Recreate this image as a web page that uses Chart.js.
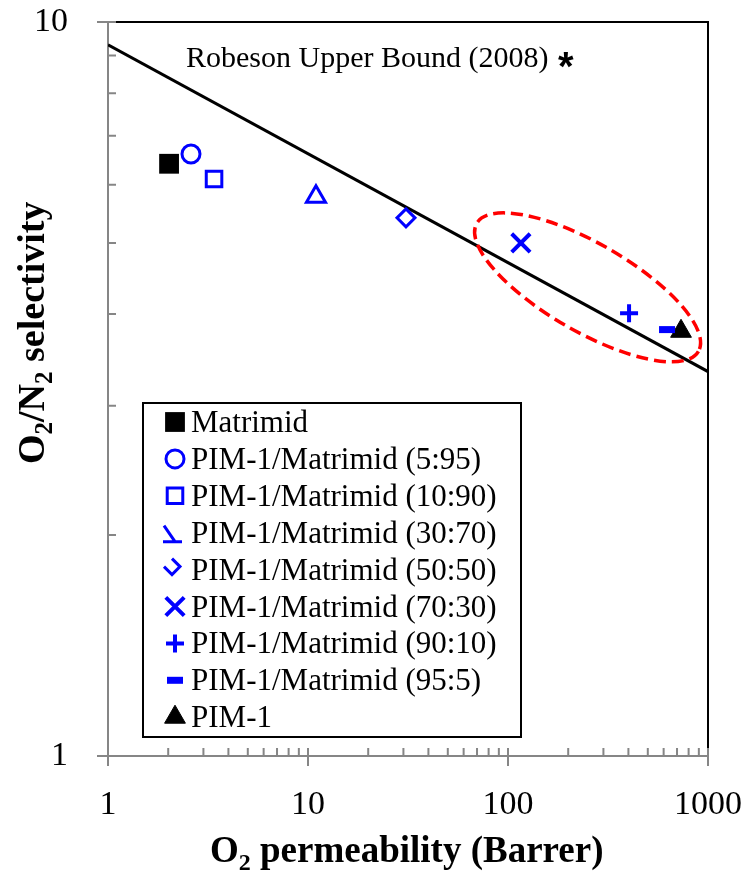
<!DOCTYPE html>
<html>
<head>
<meta charset="utf-8">
<script src="https://cdn.jsdelivr.net/npm/chart.js@4.4.0/dist/chart.umd.min.js"></script>
<style>
  html, body { margin: 0; padding: 0; background: #fff; }
  #wrap { width: 748px; height: 871px; position: relative; }
</style>
</head>
<body>
<div id="wrap"><canvas id="c"></canvas></div>
<script>
// --- data ---
const seriesNames = [
  'Matrimid',
  'PIM-1/Matrimid (5:95)',
  'PIM-1/Matrimid (10:90)',
  'PIM-1/Matrimid (30:70)',
  'PIM-1/Matrimid (50:50)',
  'PIM-1/Matrimid (70:30)',
  'PIM-1/Matrimid (90:10)',
  'PIM-1/Matrimid (95:5)',
  'PIM-1',
];
const permeability = [2.02, 2.60, 3.39, 10.96, 30.9, 116, 403, 624, 733];
const selectivity  = [6.41, 6.61, 6.11, 5.78, 5.41, 5.00, 4.01, 3.81, 3.79];

const boundX = [1, 1000];
const boundY = [9.31, 3.34];
const boundLabel = 'Robeson Upper Bound (2008)';

const xTickValues = [1, 10, 100, 1000];
const yTickValues = [1, 10];

// centre of the highlighted region (data coords)
const ellipseCenter = { x: 250, y: 4.35 };

// --- styling ---
const BLUE = '#0000ff';
const GREY = '#868686';
const SERIF = '"Liberation Serif", "Times New Roman", serif';
const NONE = 'rgba(0,0,0,0)';

const markers = [
  { style: 'rect',     r: 14, fill: '#000', stroke: '#000', bw: 0 },
  { style: 'circle',   r: 9,  fill: NONE,   stroke: BLUE,   bw: 3 },
  { style: 'rect',     r: 11, fill: NONE,   stroke: BLUE,   bw: 3 },
  { style: 'triangle', r: 11, fill: NONE,   stroke: BLUE,   bw: 3 },
  { style: 'rectRot',  r: 9,  fill: NONE,   stroke: BLUE,   bw: 3 },
  { style: 'crossRot', r: 13, fill: NONE,   stroke: BLUE,   bw: 4 },
  { style: 'cross',    r: 9,  fill: NONE,   stroke: BLUE,   bw: 4 },
  { style: 'line',     r: 8,  fill: NONE,   stroke: BLUE,   bw: 7 },
  { style: 'triangle', r: 12, fill: '#000', stroke: '#000', bw: 1 },
];

const datasets = seriesNames.map((name, i) => ({
  type: 'scatter',
  label: name,
  data: [{ x: permeability[i], y: selectivity[i] }],
  pointStyle: markers[i].style,
  pointRadius: markers[i].r,
  pointBackgroundColor: markers[i].fill,
  pointBorderColor: markers[i].stroke,
  pointBorderWidth: markers[i].bw,
  order: 1,
}));

datasets.push({
  type: 'line',
  label: boundLabel,
  data: boundX.map((x, i) => ({ x, y: boundY[i] })),
  borderColor: '#000',
  borderWidth: 3,
  pointRadius: 0,
  showLine: true,
  order: 5,
});

// axes frame, ticks and the upper-bound caption
const frame = {
  id: 'frame',
  beforeDatasetsDraw(chart) {
    const { ctx, chartArea: a, scales: { x, y } } = chart;
    ctx.save();
    ctx.lineCap = 'butt';

    ctx.strokeStyle = '#000';
    ctx.lineWidth = 2;
    ctx.beginPath();
    ctx.moveTo(a.left, a.top);
    ctx.lineTo(a.right, a.top);
    ctx.lineTo(a.right, a.bottom);
    ctx.stroke();

    ctx.strokeStyle = GREY;
    ctx.beginPath();
    ctx.moveTo(a.left, a.top);
    ctx.lineTo(a.left, a.bottom);
    ctx.lineTo(a.right, a.bottom);
    ctx.stroke();

    ctx.beginPath();
    for (let d = 1; d < 1000; d *= 10) {
      for (let k = 2; k < 10; k++) {
        const px = x.getPixelForValue(k * d);
        ctx.moveTo(px, a.bottom - 8);
        ctx.lineTo(px, a.bottom);
      }
    }
    for (const v of xTickValues) {
      const px = x.getPixelForValue(v);
      ctx.moveTo(px, a.bottom - 8);
      ctx.lineTo(px, a.bottom + 10);
    }
    for (let k = 2; k < 10; k++) {
      const py = y.getPixelForValue(k);
      ctx.moveTo(a.left, py);
      ctx.lineTo(a.left + 8, py);
    }
    for (const v of yTickValues) {
      const py = y.getPixelForValue(v);
      ctx.moveTo(a.left - 11, py);
      ctx.lineTo(a.left + 8, py);
    }
    ctx.stroke();

    ctx.fillStyle = '#000';
    ctx.textBaseline = 'alphabetic';
    ctx.textAlign = 'left';
    ctx.font = '30px ' + SERIF;
    ctx.fillText(boundLabel, 186, 67);
    const w = ctx.measureText(boundLabel + ' ').width;
    ctx.font = 'bold 40px "Liberation Sans", Arial, sans-serif';
    ctx.fillText('*', 186 + w + 2, 80);
    ctx.restore();
  },
  afterDatasetsDraw(chart) {
    const { ctx, scales: { x, y } } = chart;
    const cx = x.getPixelForValue(ellipseCenter.x);
    const cy = y.getPixelForValue(ellipseCenter.y);
    ctx.save();
    ctx.strokeStyle = '#ff0000';
    ctx.lineWidth = 3.5;
    ctx.setLineDash([12, 6]);
    ctx.beginPath();
    ctx.ellipse(cx, cy, 128, 44, Math.PI / 6, 0, Math.PI * 2);
    ctx.stroke();
    ctx.restore();
  },
};

// in-plot legend box
const legendBox = {
  id: 'legendBox',
  afterDraw(chart) {
    const ctx = chart.ctx;
    const drawPoint = Chart.helpers && Chart.helpers.drawPoint;
    ctx.save();
    ctx.fillStyle = '#fff';
    ctx.fillRect(143, 403, 378, 334);
    ctx.strokeStyle = '#000';
    ctx.lineWidth = 2;
    ctx.strokeRect(143, 403, 378, 334);

    const mx = 175;
    seriesNames.forEach((name, i) => {
      const cy = 422 + i * 36.9;
      const m = markers[i];
      ctx.fillStyle = m.fill;
      ctx.strokeStyle = m.stroke;
      ctx.lineWidth = m.bw;
      if (i === 3) {
        // Excel clips this glyph in the legend
        ctx.beginPath();
        ctx.moveTo(mx - 11, cy - 7);
        ctx.lineTo(mx, cy + 9);
        ctx.moveTo(mx - 12, cy + 9);
        ctx.lineTo(mx + 7, cy + 9);
        ctx.stroke();
      } else if (i === 4) {
        const dx = mx - 3, dy = cy - 3;
        ctx.beginPath();
        ctx.moveTo(dx, dy - 8);
        ctx.lineTo(dx + 8, dy);
        ctx.lineTo(dx, dy + 8);
        ctx.lineTo(dx - 8, dy);
        ctx.stroke();
      } else if (drawPoint) {
        drawPoint(ctx, { pointStyle: m.style, radius: m.r, borderWidth: m.bw, rotation: 0 }, mx, cy);
      }
      ctx.fillStyle = '#000';
      ctx.font = '31px ' + SERIF;
      ctx.textBaseline = 'alphabetic';
      ctx.textAlign = 'left';
      ctx.fillText(name, 191, cy + 10);
    });
    ctx.restore();
  },
};

// axis titles with true subscripts
function drawRich(ctx, parts, x, y, size) {
  let cx = x;
  for (const p of parts) {
    ctx.font = 'bold ' + (p.sub ? Math.round(size * 0.66) : size) + 'px ' + SERIF;
    ctx.fillText(p.t, cx, y + (p.sub ? 8 : 0));
    cx += ctx.measureText(p.t).width;
  }
}

const axisTitles = {
  id: 'axisTitles',
  afterDraw(chart) {
    const ctx = chart.ctx;
    ctx.save();
    ctx.fillStyle = '#000';
    ctx.textBaseline = 'alphabetic';
    ctx.textAlign = 'left';
    drawRich(ctx, [{ t: 'O' }, { t: '2', sub: true }, { t: ' permeability (Barrer)' }], 210, 862, 37);
    ctx.translate(44, 464);
    ctx.rotate(-Math.PI / 2);
    drawRich(ctx, [{ t: 'O' }, { t: '2', sub: true }, { t: '/N' }, { t: '2', sub: true }, { t: ' selectivity' }], 0, 0, 38);
    ctx.restore();
  },
};

new Chart(document.getElementById('c'), {
  type: 'scatter',
  data: { datasets },
  options: {
    responsive: true,
    maintainAspectRatio: false,
    animation: false,
    events: [],
    devicePixelRatio: 1,
    layout: { padding: { top: 22, right: 40, left: 0, bottom: 0 } },
    plugins: { legend: { display: false }, tooltip: { enabled: false } },
    scales: {
      x: {
        type: 'logarithmic',
        min: 1,
        max: 1000,
        grid: { display: false },
        border: { display: false },
        afterBuildTicks: (s) => { s.ticks = xTickValues.map(v => ({ value: v })); },
        afterFit: (s) => { s.height = 115; s.paddingLeft = 0; s.paddingRight = 0; },
        ticks: {
          color: '#000',
          font: { family: SERIF, size: 34 },
          padding: 21,
          maxRotation: 0,
          autoSkip: false,
          callback: (v) => String(v),
        },
      },
      y: {
        type: 'logarithmic',
        min: 1,
        max: 10,
        grid: { display: false },
        border: { display: false },
        afterBuildTicks: (s) => { s.ticks = yTickValues.map(v => ({ value: v })); },
        afterFit: (s) => { s.width = 108; s.paddingTop = 0; s.paddingBottom = 0; },
        ticks: {
          color: '#000',
          font: { family: SERIF, size: 34 },
          padding: 32,
          autoSkip: false,
          callback: (v) => String(v),
        },
      },
    },
  },
  plugins: [frame, legendBox, axisTitles],
});
</script>
</body>
</html>
